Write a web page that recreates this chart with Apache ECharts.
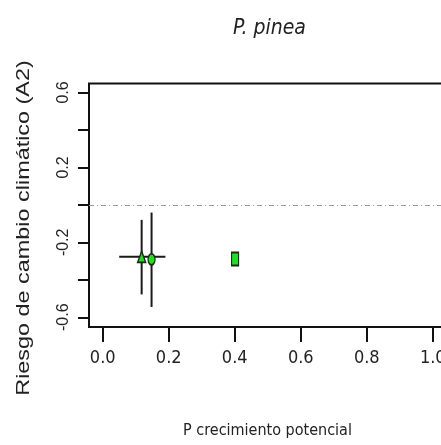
<!DOCTYPE html>
<html>
<head>
<meta charset="utf-8">
<script src="https://cdn.jsdelivr.net/npm/echarts@6/dist/echarts.min.js"></script>
<style>
html, body { margin: 0; padding: 0; background: #fff; }
#main { width: 441px; height: 445px; }
</style>
</head>
<body>
<div id="main"></div>
<script>
// points
var pointX = [0.118, 0.148, 0.401];
var pointY = [-0.277, -0.291, -0.289];
var errXLow = [0.05, null, null];
var errXHigh = [0.19, null, null];
var errYLow = [-0.478, -0.545, null];
var errYHigh = [-0.08, -0.041, null];

var xTicks = [0.0, 0.2, 0.4, 0.6, 0.8, 1.0];
var yTicks = [-0.6, -0.4, -0.2, 0.0, 0.2, 0.4, 0.6];
var yTickLabels = [-0.6, -0.2, 0.2, 0.6];

var narrow = '"Liberation Sans Narrow", "DejaVu Sans Condensed", "Arial Narrow", sans-serif';
var plain = '"Liberation Sans", Arial, sans-serif';

var markerStyle = [
    { symbol: 'triangle', symbolSize: [8, 11] },
    { symbol: 'circle', symbolSize: [7, 11] },
    { symbol: 'rect', symbolSize: [7, 13] }
];

var scatterData = pointX.map(function (x, i) {
    return {
        value: [x, pointY[i]],
        symbol: markerStyle[i].symbol,
        symbolSize: markerStyle[i].symbolSize
    };
});

var errData = pointX.map(function (x, i) {
    return [x, pointY[i], errXLow[i], errXHigh[i], errYLow[i], errYHigh[i]];
});

function renderErr(params, api) {
    var x = api.value(0), y = api.value(1);
    var children = [];
    var ls = { stroke: '#1a1a1a', lineWidth: 2 };
    var xl = api.value(2), xh = api.value(3), yl = api.value(4), yh = api.value(5);
    if (!isNaN(xl) && !isNaN(xh)) {
        var a = api.coord([xl, y]), b = api.coord([xh, y]);
        children.push({ type: 'line', shape: { x1: a[0], y1: a[1], x2: b[0], y2: b[1] }, style: ls });
    }
    if (!isNaN(yl) && !isNaN(yh)) {
        var c = api.coord([x, yl]), d = api.coord([x, yh]);
        children.push({ type: 'line', shape: { x1: c[0], y1: c[1], x2: d[0], y2: d[1] }, style: ls });
    }
    return { type: 'group', children: children };
}

option = {
    animation: false,
    backgroundColor: '#fff',
    title: {
        text: 'P. pinea',
        left: 228,
        top: 13,
        textStyle: {
            fontFamily: narrow,
            fontStyle: 'italic',
            fontWeight: 'normal',
            fontSize: 21,
            color: '#222'
        }
    },
    grid: {
        left: 89,
        top: 83.5,
        bottom: 118,
        right: -5,
        show: true,
        borderColor: '#111',
        borderWidth: 2,
        outerBoundsMode: 'none',
        containLabel: false
    },
    xAxis: {
        type: 'value',
        position: 'bottom',
        offset: 15,
        min: -0.0415,
        max: 1.04,
        splitLine: { show: false },
        axisLine: { show: false, onZero: false },
        axisTick: {
            show: true,
            inside: true,
            customValues: xTicks,
            length: 15,
            lineStyle: { color: '#111', width: 2 }
        },
        axisLabel: {
            customValues: xTicks,
            margin: 7,
            fontFamily: narrow,
            fontSize: 18,
            color: '#222',
            formatter: function (v) { return v.toFixed(1); }
        },
        name: 'P crecimiento potencial',
        nameLocation: 'middle',
        nameGap: 81,
        nameTextStyle: { fontFamily: narrow, fontSize: 16, color: '#222' }
    },
    yAxis: {
        type: 'value',
        position: 'left',
        offset: 11,
        min: -0.652,
        max: 0.648,
        splitLine: { show: false },
        axisLine: { show: false, onZero: false },
        axisTick: {
            show: true,
            inside: true,
            customValues: yTicks,
            length: 11,
            lineStyle: { color: '#111', width: 2 }
        },
        axisLabel: {
            customValues: yTickLabels,
            rotate: 90,
            margin: 6,
            fontFamily: plain,
            fontSize: 16,
            color: '#222',
            formatter: function (v) { return v.toFixed(1); }
        }
    },
    graphic: [{
        type: 'text',
        x: 24,
        y: 228,
        rotation: Math.PI / 2,
        scaleX: 1.3,
        style: {
            text: 'Riesgo de cambio climático (A2)',
            fontFamily: plain,
            fontSize: 18,
            fill: '#222',
            textAlign: 'center',
            textVerticalAlign: 'middle'
        }
    }],
    series: [
        {
            type: 'custom',
            renderItem: renderErr,
            data: errData,
            encode: { x: 0, y: 1 },
            z: 2,
            silent: true
        },
        {
            type: 'scatter',
            data: scatterData,
            z: 3,
            itemStyle: { color: '#22dd22', borderColor: '#1a2a1a', borderWidth: 1.5, opacity: 1 },
            markLine: {
                silent: true,
                symbol: 'none',
                label: { show: false },
                lineStyle: { color: '#999', width: 1, type: [5, 3, 1, 3] },
                data: [{ yAxis: 0 }]
            }
        }
    ]
};

var myChart = echarts.init(document.getElementById('main'));
myChart.setOption(option);
</script>
</body>
</html>
